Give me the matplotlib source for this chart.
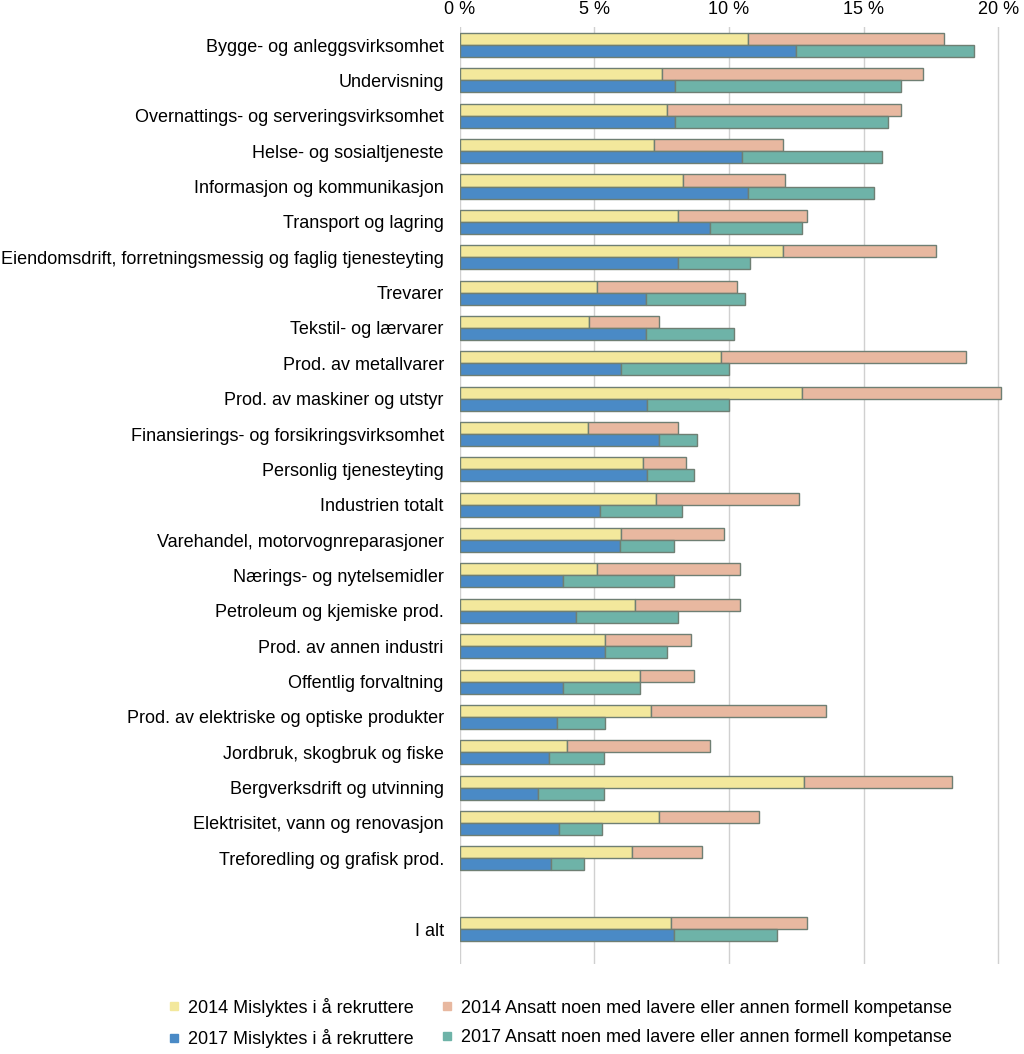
import numpy as np
import matplotlib
matplotlib.use('Agg')
import matplotlib.pyplot as plt
from matplotlib.lines import Line2D

plt.rcParams['font.family'] = ['Liberation Sans', 'DejaVu Sans']

categories = [
    "Bygge- og anleggsvirksomhet",
    "Undervisning",
    "Overnattings- og serveringsvirksomhet",
    "Helse- og sosialtjeneste",
    "Informasjon og kommunikasjon",
    "Transport og lagring",
    "Eiendomsdrift, forretningsmessig og faglig tjenesteyting",
    "Trevarer",
    "Tekstil- og lærvarer",
    "Prod. av metallvarer",
    "Prod. av maskiner og utstyr",
    "Finansierings- og forsikringsvirksomhet",
    "Personlig tjenesteyting",
    "Industrien totalt",
    "Varehandel, motorvognreparasjoner",
    "Nærings- og nytelsemidler",
    "Petroleum og kjemiske prod.",
    "Prod. av annen industri",
    "Offentlig forvaltning",
    "Prod. av elektriske og optiske produkter",
    "Jordbruk, skogbruk og fiske",
    "Bergverksdrift og utvinning",
    "Elektrisitet, vann og renovasjon",
    "Treforedling og grafisk prod.",
    "I alt",
]

fail_2014 = [10.7, 7.5, 7.7, 7.2, 8.3, 8.1, 12.0, 5.1, 4.8, 9.7, 12.7, 4.76, 6.8, 7.3,
             6.0, 5.1, 6.5, 5.4, 6.7, 7.1, 4.0, 12.8, 7.4, 6.4, 7.85]
total_2014 = [18.0, 17.2, 16.4, 12.0, 12.1, 12.9, 17.7, 10.3, 7.4, 18.8, 20.1, 8.1, 8.4, 12.6,
              9.8, 10.4, 10.4, 8.6, 8.7, 13.6, 9.3, 18.3, 11.1, 9.0, 12.9]
fail_2017 = [12.5, 8.0, 8.0, 10.5, 10.7, 9.3, 8.1, 6.9, 6.9, 6.0, 6.95, 7.4, 6.95, 5.2,
             5.95, 3.85, 4.3, 5.4, 3.85, 3.6, 3.3, 2.9, 3.7, 3.4, 7.95]
total_2017 = [19.1, 16.4, 15.9, 15.7, 15.4, 12.7, 10.8, 10.6, 10.2, 10.0, 10.0, 8.8, 8.7, 8.25,
              7.95, 7.95, 8.1, 7.7, 6.7, 5.4, 5.35, 5.35, 5.3, 4.6, 11.8]

xticks = [0, 5, 10, 15, 20]
xticklabels = ["0 %", "5 %", "10 %", "15 %", "20 %"]

c_y14 = '#f3e89c'
c_s14 = '#e8b8a0'
c_b17 = '#4a8ac6'
c_t17 = '#6eb3a8'
edge = '#6f7f73'

fail_2014 = np.array(fail_2014)
fail_2017 = np.array(fail_2017)
other_2014 = np.array(total_2014) - fail_2014
other_2017 = np.array(total_2017) - fail_2017

# one empty slot before "I alt"
pos = np.arange(len(categories), dtype=float)
pos[-1] += 1

h = 0.34
fig = plt.figure(figsize=(10.24, 10.54), dpi=100)
ax = fig.add_axes([0.449, 0.085, 0.531, 0.889])

ax.barh(pos - h / 2, fail_2014, height=h, color=c_y14, edgecolor=edge, linewidth=1, zorder=3)
ax.barh(pos - h / 2, other_2014, left=fail_2014, height=h, color=c_s14, edgecolor=edge, linewidth=1, zorder=3)
ax.barh(pos + h / 2, fail_2017, height=h, color=c_b17, edgecolor=edge, linewidth=1, zorder=3)
ax.barh(pos + h / 2, other_2017, left=fail_2017, height=h, color=c_t17, edgecolor=edge, linewidth=1, zorder=3)

ax.set_xlim(0, 20.2)
ax.set_ylim(pos[-1] + 1, -0.5)
ax.set_yticks(pos)
ax.set_yticklabels(categories, fontsize=13)
ax.set_xticks(xticks)
ax.set_xticklabels(xticklabels, fontsize=13)
ax.xaxis.tick_top()
ax.tick_params(axis='both', length=0)
ax.tick_params(axis='y', pad=11.5)
ax.tick_params(axis='x', pad=7)
ax.grid(axis='x', color='#d0d0d0', linewidth=1, zorder=0)
for s in ax.spines.values():
    s.set_visible(False)

handles = [
    Line2D([], [], marker='s', linestyle='none', markersize=6, color=c_y14),
    Line2D([], [], marker='s', linestyle='none', markersize=6, color=c_b17),
    Line2D([], [], marker='s', linestyle='none', markersize=6, color=c_s14),
    Line2D([], [], marker='s', linestyle='none', markersize=6, color=c_t17),
]
labels = [
    "2014 Mislyktes i å rekruttere",
    "2017 Mislyktes i å rekruttere",
    "2014 Ansatt noen med lavere eller annen formell kompetanse",
    "2017 Ansatt noen med lavere eller annen formell kompetanse",
]
fig.legend(handles, labels, ncol=2, loc='lower left', bbox_to_anchor=(0.150, -0.010),
           frameon=False, fontsize=13, handlelength=0.5, handletextpad=0.5,
           columnspacing=1.6, labelspacing=0.7)

fig.savefig('out.png', dpi=100)
